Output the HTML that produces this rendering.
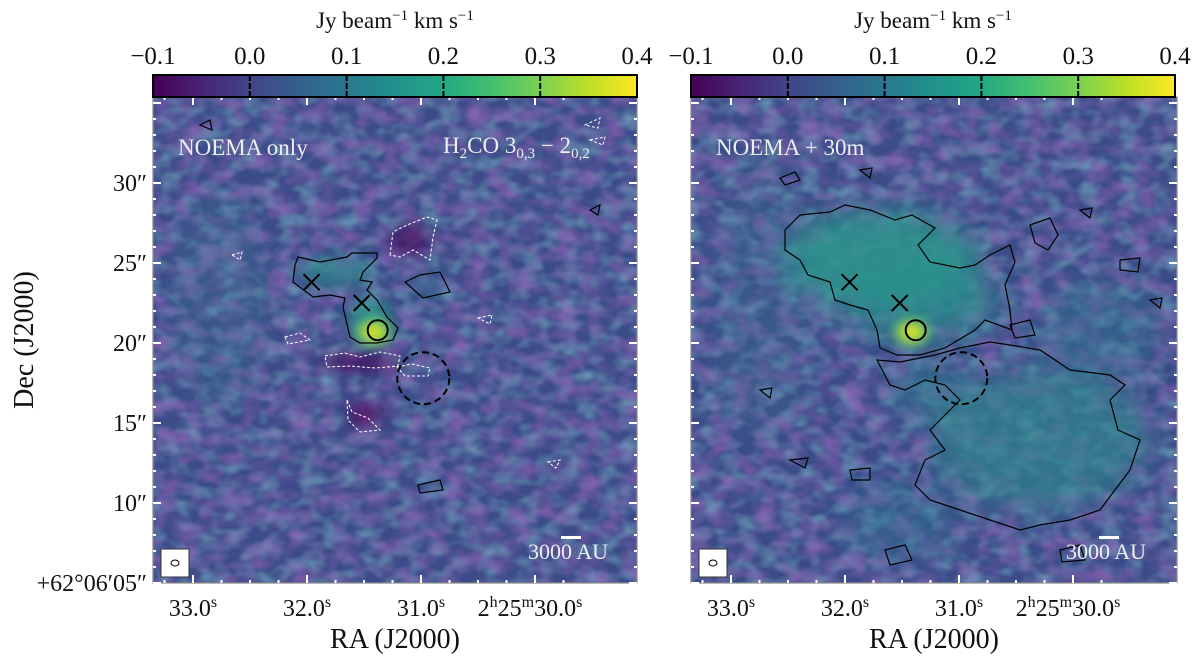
<!DOCTYPE html>
<html><head><meta charset="utf-8"><style>
html,body{margin:0;padding:0;background:#fff;width:1200px;height:661px;overflow:hidden}
text{font-family:"Liberation Serif",serif;fill:#111}
</style></head><body>
<svg id="fig" width="1200" height="661" viewBox="0 0 1200 661" xmlns="http://www.w3.org/2000/svg">
<defs>
<linearGradient id="vir" x1="0" x2="1" y1="0" y2="0">
<stop offset="0" stop-color="#440154"/><stop offset="0.1" stop-color="#482475"/><stop offset="0.2" stop-color="#414487"/><stop offset="0.3" stop-color="#355f8d"/><stop offset="0.4" stop-color="#2a788e"/><stop offset="0.5" stop-color="#21918c"/><stop offset="0.6" stop-color="#22a884"/><stop offset="0.7" stop-color="#44bf70"/><stop offset="0.8" stop-color="#7ad151"/><stop offset="0.9" stop-color="#bddf26"/><stop offset="1" stop-color="#fde725"/>
</linearGradient>
<filter id="noiseP" x="0" y="0" width="1" height="1">
<feTurbulence type="fractalNoise" baseFrequency="0.045 0.065" numOctaves="2" seed="3"/>
<feColorMatrix type="matrix" values="0 0 0 0 0.27  0 0 0 0 0.12  0 0 0 0 0.46  1.6 0 0 0 -0.62"/>
</filter>
<filter id="noiseT" x="0" y="0" width="1" height="1">
<feTurbulence type="fractalNoise" baseFrequency="0.05 0.07" numOctaves="2" seed="11"/>
<feColorMatrix type="matrix" values="0 0 0 0 0.19  0 0 0 0 0.42  0 0 0 0 0.55  0 1.5 0 0 -0.6"/>
</filter>
<filter id="blur8"><feGaussianBlur stdDeviation="8"/></filter>
<filter id="blur14"><feGaussianBlur stdDeviation="14"/></filter>
<filter id="blur5"><feGaussianBlur stdDeviation="5"/></filter>
<radialGradient id="core"><stop offset="0" stop-color="#fde725"/><stop offset="0.35" stop-color="#bddf26"/><stop offset="0.7" stop-color="#44bf70" stop-opacity="0.8"/><stop offset="1" stop-color="#2a788e" stop-opacity="0"/></radialGradient>
<clipPath id="clipL"><rect x="153" y="97" width="484" height="486"/></clipPath>
<clipPath id="clipR"><rect x="691" y="97" width="486" height="486"/></clipPath>
</defs>
<g id="layer"></g>
</svg>
<script>
// ---- data ----
const cbTicks = [-0.1, 0.0, 0.1, 0.2, 0.3, 0.4];
const cbTickLabels = ['\u22120.1','0.0','0.1','0.2','0.3','0.4'];
const raTicks = [33.0, 32.0, 31.0, 30.0];
const decTicks = [5, 10, 15, 20, 25, 30];
const decTickLabels = ['+62\u00b006\u203205\u2033','10\u2033','15\u2033','20\u2033','25\u2033','30\u2033'];
const crossRA = [31.96, 31.52];
const crossDec = [23.8, 22.5];
const coreRA = [31.38];
const coreDec = [20.8];
const dashRA = [30.98];
const dashDec = [17.8];

const NS='http://www.w3.org/2000/svg';
const layer=document.getElementById('layer');
function mk(tag,attrs,parent){const e=document.createElementNS(NS,tag);for(const k in attrs)e.setAttribute(k,attrs[k]);(parent||layer).appendChild(e);return e;}
const panels=[{x0:153,x1:637,cb0:153,cb1:637,clip:'clipL',id:'left'},{x0:691,x1:1177,cb0:691,cb1:1175,clip:'clipR',id:'right'}];
const Y0=97,Y1=583;
function xRA(p,ra){return p.x0+40+(33.0-ra)*114;}
function yDec(d){return 583-(d-5)*16;}
function xCB(p,v){return p.cb0+(v+0.1)/0.5*(p.cb1-p.cb0);}

panels.forEach((p,pi)=>{
  const g=mk('g',{'clip-path':'url(#'+p.clip+')'});
  
  
  const w=p.x1-p.x0;
  mk('rect',{x:p.x0,y:Y0,width:w,height:Y1-Y0,fill:'#3c4c89'},g);
  mk('rect',{x:p.x0,y:Y0,width:w,height:Y1-Y0,filter:'url(#noiseT)'},g);
  mk('rect',{x:p.x0,y:Y0,width:w,height:Y1-Y0,filter:'url(#noiseP)'},g);
  const cx=xRA(p,coreRA[0]), cy=yDec(coreDec[0]);
  if(pi===0){
    const e=mk('g',{filter:'url(#blur8)'},g);
    mk('ellipse',{cx:335,cy:272,rx:38,ry:14,fill:'#2a8a8c',opacity:0.8},e);
    mk('ellipse',{cx:370,cy:318,rx:20,ry:22,fill:'#2a9a8a',opacity:0.85},e);
    mk('ellipse',{cx:430,cy:285,rx:18,ry:9,fill:'#2a788e',opacity:0.6},e);
    mk('ellipse',{cx:410,cy:240,rx:22,ry:14,fill:'#440154',opacity:0.7},e);
    mk('ellipse',{cx:360,cy:362,rx:40,ry:8,fill:'#440154',opacity:0.8},e);
    mk('ellipse',{cx:365,cy:415,rx:18,ry:12,fill:'#440154',opacity:0.8},e);
    mk('ellipse',{cx:220,cy:300,rx:50,ry:110,fill:'#2a788e',opacity:0.25},e);
  } else {
    const e=mk('g',{filter:'url(#blur14)'},g);
    mk('ellipse',{cx:880,cy:260,rx:100,ry:50,fill:'#2a968b',opacity:0.85},e);
    mk('ellipse',{cx:920,cy:300,rx:80,ry:40,fill:'#2a908c',opacity:0.7},e);
    mk('ellipse',{cx:1040,cy:440,rx:110,ry:70,fill:'#2a888c',opacity:0.65},e);
    mk('ellipse',{cx:930,cy:390,rx:40,ry:22,fill:'#2a848c',opacity:0.6},e);
    mk('ellipse',{cx:1100,cy:330,rx:60,ry:50,fill:'#2a788e',opacity:0.45},e);
    mk('ellipse',{cx:900,cy:520,rx:60,ry:40,fill:'#2a788e',opacity:0.4},e);
    mk('ellipse',{cx:760,cy:300,rx:50,ry:140,fill:'#2a788e',opacity:0.25},e);
  }
  const cc=mk('g',{filter:'url(#blur5)'},g);
  mk('ellipse',{cx:cx-4,cy:cy+2,rx:24,ry:18,fill:'url(#core)'},cc);
  // contours
  const cg=mk('g',{fill:'none',stroke:'#000','stroke-width':1.2},g);
  
  
  if(pi===0){
    mk('path',{d:'M295,265 L298,257 L320,262 L347,257 L352,253 L377,253 L377,258 L363,272 L360,280 L372,282 L367,290 L377,300 L387,317 L398,328 L393,340 L377,343 L360,343 L350,337 L343,307 L345,298 L330,295 L313,297 L293,282 Z'},cg);
    mk('path',{d:'M405,282 L420,275 L440,272 L450,292 L423,298 Z'},cg);
    mk('path',{d:'M418,485 L440,480 L443,490 L420,493 Z M200,125 L210,120 L212,130 Z M590,210 L600,205 L598,215 Z'},cg);
    const wg=mk('g',{stroke:'#fff','stroke-dasharray':'3,2'},g);
    
    
    mk('path',{d:'M390,255 L393,232 L407,225 L427,217 L437,220 L433,237 L430,260 L413,250 L400,257 Z',fill:'none'},wg);
    mk('path',{d:'M325,356 L345,353 L360,357 L380,352 L400,356 L398,366 L375,368 L350,366 L327,367 Z',fill:'none'},wg);
    mk('path',{d:'M397,367 L412,364 L430,368 L428,376 L405,376 Z',fill:'none'},wg);
    mk('path',{d:'M347,400 L352,412 L368,418 L380,430 L360,432 L348,420 Z',fill:'none'},wg);
    mk('path',{d:'M285,337 L300,333 L310,340 L288,344 Z',fill:'none'},wg);
    mk('path',{d:'M478,318 L492,315 L490,324 Z',fill:'none'},wg);
    mk('path',{d:'M585,125 L600,118 L598,128 Z M590,140 L605,137 L603,145 Z',fill:'none'},wg);
    mk('path',{d:'M548,462 L560,460 L556,468 Z M232,255 L242,252 L240,260 Z',fill:'none'},wg);
  } else {
    mk('path',{d:'M785,230 L800,215 L830,212 L845,205 L870,210 L895,220 L912,215 L935,228 L918,245 L930,262 L960,268 L975,265 L990,255 L1010,245 L1015,262 L1005,285 L1010,310 L1012,330 L985,320 L975,330 L945,348 L920,355 L897,355 L880,348 L877,330 L868,310 L850,305 L835,300 L830,282 L808,275 L800,260 L785,250 Z'},cg);
    mk('path',{d:'M877,360 L900,362 L935,355 L960,348 L990,342 L1010,345 L1040,350 L1070,370 L1110,375 L1125,385 L1110,400 L1118,430 L1140,440 L1130,470 L1115,490 L1100,510 L1070,520 L1040,525 L1020,530 L990,520 L960,510 L930,500 L915,485 L925,460 L945,450 L930,430 L945,415 L960,400 L945,385 L925,380 L905,390 L890,385 Z'},cg);
    mk('path',{d:'M1030,225 L1050,218 L1058,235 L1048,250 L1035,243 Z M1120,260 L1140,258 L1138,272 L1120,270 Z M1010,325 L1030,320 L1035,335 L1015,338 Z'},cg);
    mk('path',{d:'M885,550 L905,545 L912,560 L890,565 Z M850,470 L870,468 L870,480 L852,480 Z M790,460 L808,458 L805,468 Z'},cg);
    mk('path',{d:'M780,178 L795,172 L800,180 L785,185 Z M860,170 L872,168 L870,178 Z M1080,210 L1092,208 L1090,218 Z M760,390 L772,388 L770,398 Z M1150,300 L1162,298 L1160,308 Z M1060,550 L1080,545 L1085,560 L1062,562 Z'},cg);
  }
  // markers
  crossRA.forEach((ra,i)=>{
    const x=xRA(p,ra),y=yDec(crossDec[i]);
    const c=mk('path',{d:`M${x-8},${y-8}L${x+8},${y+8}M${x-8},${y+8}L${x+8},${y-8}`,stroke:'#000','stroke-width':2,fill:'none'});
    
    
  });
  coreRA.forEach((ra,i)=>{
    const c=mk('circle',{cx:xRA(p,ra),cy:yDec(coreDec[i]),r:10,fill:'none',stroke:'#000','stroke-width':2});
    
    
  });
  dashRA.forEach((ra,i)=>{
    const c=mk('circle',{cx:xRA(p,ra),cy:yDec(dashDec[i]),r:26,fill:'none',stroke:'#000','stroke-width':2,'stroke-dasharray':'7,4'});
    
    
  });
  // beam & scale bar
  const bm=mk('rect',{x:p.x0+8,y:549,width:28,height:28,fill:'#fff',stroke:'#333','stroke-width':1});
  
  
  mk('ellipse',{cx:p.x0+22,cy:563,rx:4,ry:3,fill:'none',stroke:'#000','stroke-width':1});
  mk('rect',{x:p.x0+408,y:536,width:20,height:3,fill:'#fff'});
  const st=mk('text',{x:p.x0+455,y:559,'font-size':22,'text-anchor':'end',style:'fill:#eee'});
  st.textContent='3000 AU';
  
  
  // frame
  mk('rect',{x:p.x0,y:Y0,width:w,height:Y1-Y0,fill:'none',stroke:'#888','stroke-width':1.2});
  // ticks
  for(let s=33.5;s>=29.7;s-=0.25){
    const x=xRA(p,s); if(x<p.x0+2||x>p.x1-2)continue;
    const major=Math.abs(s-Math.round(s))<0.01;
    mk('line',{x1:x,x2:x,y1:Y1,y2:Y1-(major?8:3),stroke:'#fff','stroke-width':2});
    mk('line',{x1:x,x2:x,y1:Y0,y2:Y0+(major?8:3),stroke:'#fff','stroke-width':2});
  }
  for(let d=5;d<=35;d+=1){
    const y=yDec(d); if(y<Y0+2||y>Y1)continue;
    const major=d%5===0;
    mk('line',{x1:p.x0,x2:p.x0+(major?8:3),y1:y,y2:y,stroke:'#fff','stroke-width':2});
    mk('line',{x1:p.x1,x2:p.x1-(major?8:3),y1:y,y2:y,stroke:'#fff','stroke-width':2});
  }
  raTicks.forEach(ra=>{
    const t=mk('text',{x:xRA(p,ra),y:616,'font-size':24,'text-anchor':'middle'});
    
    
    if(ra===30){t.innerHTML='2<tspan font-size="16" dy="-9">h</tspan><tspan dy="9">25</tspan><tspan font-size="16" dy="-9">m</tspan><tspan dy="9">30.0</tspan><tspan font-size="16" dy="-9">s</tspan>';t.setAttribute('x',xRA(p,ra)-5);}
    else t.innerHTML=ra.toFixed(1)+'<tspan font-size="16" dy="-9">s</tspan>';
  });
  const xt=mk('text',{x:(p.x0+p.x1)/2,y:648,'font-size':28,'text-anchor':'middle'});
  xt.textContent='RA (J2000)';
  
  
  // colorbar
  const cb=mk('rect',{x:p.cb0,y:75,width:p.cb1-p.cb0,height:22,fill:'url(#vir)',stroke:'#000','stroke-width':2});
  
  
  cbTicks.forEach((v,i)=>{
    const x=xCB(p,v);
    if(i>0&&i<cbTicks.length-1) mk('line',{x1:x,x2:x,y1:75,y2:97,stroke:'#000','stroke-width':2,'stroke-dasharray':'6,2'});
    const t=mk('text',{x:x,y:64,'font-size':25,'text-anchor':'middle'});
    t.textContent=cbTickLabels[i];
    
    
  });
  const ct=mk('text',{x:(p.cb0+p.cb1)/2,y:28,'font-size':23,'text-anchor':'middle'});
  ct.innerHTML='Jy beam<tspan font-size="15" dy="-8">\u22121</tspan><tspan dy="8"> km s</tspan><tspan font-size="15" dy="-8">\u22121</tspan>';
  
  
});
// panel labels
let t=mk('text',{x:178,y:155,'font-size':23,style:'fill:#eee'});t.textContent='NOEMA only';


t=mk('text',{x:443,y:153,'font-size':23,style:'fill:#eee'});
t.innerHTML='H<tspan font-size="15" dy="5">2</tspan><tspan dy="-5">CO 3</tspan><tspan font-size="15" dy="5">0,3</tspan><tspan dy="-5"> \u2212 2</tspan><tspan font-size="15" dy="5">0,2</tspan>';


t=mk('text',{x:716,y:155,'font-size':23,style:'fill:#eee'});t.textContent='NOEMA + 30m';


// dec labels
decTicks.forEach((d,i)=>{
  const tt=mk('text',{x:147,y:yDec(d)+8,'font-size':24,'text-anchor':'end'});
  tt.textContent=decTickLabels[i];
  
  
});
t=mk('text',{x:0,y:0,'font-size':28,'text-anchor':'middle',transform:'translate(33,340) rotate(-90)'});
t.textContent='Dec (J2000)';


</script>
</body></html>
